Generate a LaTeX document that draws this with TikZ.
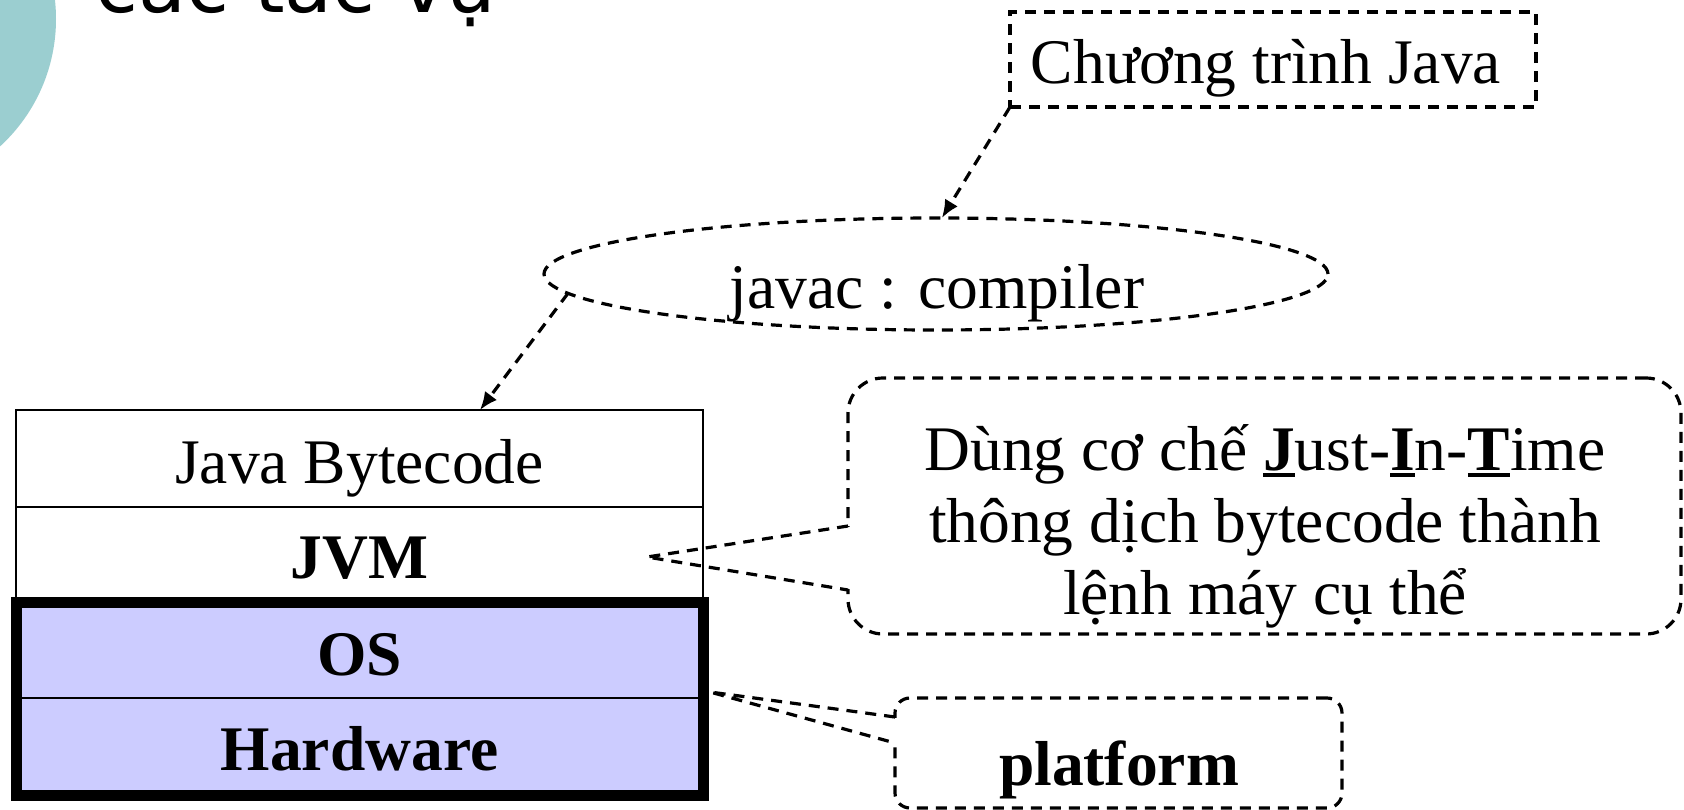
\documentclass[tikz,border=0pt]{standalone}
\usepackage{fontspec}
\setmainfont{Liberation Serif}
\newfontfamily\titlefont{DejaVu Sans}
\usetikzlibrary{arrows.meta,shapes.geometric,calc}
\definecolor{tealc}{RGB}{155,206,208}
\definecolor{lav}{RGB}{204,204,255}
\newcommand\bigfnt{\fontsize{63.5pt}{72pt}\selectfont}
\newcommand\jul[1]{\setbox0\hbox{\textbf{#1}}\rlap{\rule[-7pt]{\wd0}{4pt}}\box0}
\begin{document}
\begin{tikzpicture}[x=1pt,y=-1pt,
  dsh/.style={line width=3.2pt, dash pattern=on 11pt off 8pt},
  conn/.style={dsh, -{Latex[length=18pt,width=15pt]}},
  txt/.style={anchor=base, inner sep=0pt, font=\bigfnt},
  stk/.style={draw, line width=2.5pt, minimum width=687pt, inner sep=0pt, outer sep=0pt},
]
\useasboundingbox (0,0) rectangle (1684,809);
\clip (0,0) rectangle (1684,809);
\fill[white] (0,0) rectangle (1684,809);
\fill[tealc] (-117,19) circle[radius=173];
\node[anchor=base, inner sep=0pt, font=\titlefont\fontsize{78pt}{82pt}\selectfont] (title) at (296,12) {các tác vụ};

% Java program box
\node[dsh, draw, minimum width=526pt, minimum height=95pt, inner sep=0pt, outer sep=0pt] (cj) at (1273,59.5) {};
\node[txt] (cjt) at (1266,83) {Chương trình Java};

% compiler ellipse
\node[dsh, draw, ellipse, minimum width=784pt, minimum height=112pt, inner sep=0pt, outer sep=0pt] (ell) at (936,274) {};
\node[txt] (ellt) at (937,308) {javac : compiler};

% stack
\node[stk, fill=white, minimum height=97pt] (jb) at (359.5,458.5) {};
\node[stk, fill=white, minimum height=95pt] (jvm) at (359.5,554.5) {};
\node[stk, line width=1.5pt, fill=lav, minimum height=96pt] (os) at (359.5,650) {};
\node[stk, line width=1.5pt, fill=lav, minimum height=97pt] (hw) at (359.5,746.5) {};
\draw[line width=11pt] (os.north west) rectangle (hw.south east);
\node[txt] (jbt) at (359.5,483) {Java Bytecode};
\node[txt, font=\bigfnt\bfseries] (jvmt) at (359.5,578) {JVM};
\node[txt, font=\bigfnt\bfseries] (ost) at (359.5,675) {OS};
\node[txt, font=\bigfnt\bfseries] (hwt) at (359.5,770) {Hardware};

% connectors
\draw[conn] (cj.south west) -- (ell.84);
\draw[conn] (ell.183.6) -- ($(jb.north west)+(464,0)$);

% JIT callout
\node[dsh, draw, rounded corners=35pt, minimum width=833pt, minimum height=256pt, inner sep=0pt, outer sep=0pt] (jit) at (1264.5,506) {};
\fill[white] (845,527) rectangle (851,589);
\draw[dsh] (848,526) -- (647,557) -- (848,590);
\node[txt] (l1) at (1265,470) {Dùng cơ chế \jul{J}ust-\jul{I}n-\jul{T}ime};
\node[txt] (l2) at (1265,542) {thông dịch bytecode thành};
\node[txt] (l3) at (1265,614) {lệnh máy cụ thể};

% platform callout
\node[dsh, draw, rounded corners=15pt, minimum width=447pt, minimum height=110pt, inner sep=0pt, outer sep=0pt] (plat) at (1118.5,753) {};
\fill[white] (892,718) rectangle (898,742);
\draw[dsh] (895,717) -- (710,692) -- (895,743);
\node[txt, font=\bigfnt\bfseries] (pt) at (1119,785) {platform};
\end{tikzpicture}
\end{document}
